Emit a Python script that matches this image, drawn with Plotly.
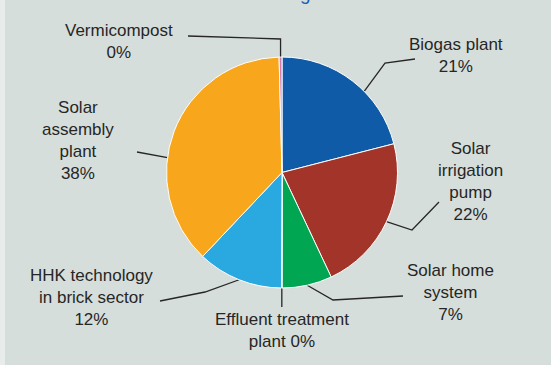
import math
import plotly.graph_objects as go

# Share of each technology (percent), clockwise from 12 o'clock
categories = [
    "Biogas plant",
    "Solar irrigation pump",
    "Solar home system",
    "Effluent treatment plant",
    "HHK technology in brick sector",
    "Solar assembly plant",
    "Vermicompost",
]
shares = [21.0, 22.0, 7.0, 0.05, 12.0, 37.55, 0.4]
slice_colors = ["#0f5ba8", "#a33429", "#00a651", "#8c8c8c", "#29a9e0", "#f8a71d", "#cc7bb8"]

# How each label is broken over lines (percent is appended)
label_lines = [
    ["Biogas plant"],
    ["Solar", "irrigation", "pump"],
    ["Solar home", "system"],
    ["Effluent treatment", "plant {p}"],
    ["HHK technology", "in brick sector"],
    ["Solar", "assembly", "plant"],
    ["Vermicompost"],
]

W, H = 551, 365
CX, CY, R = 282.0, 172.5, 115.5
BG = "#d6dedb"
INK = "#262626"

# Label text centres and leader-line bend points (pixel space, y down)
label_pos = [(456, 55), (470, 181), (450, 292), (282, 330), (91, 297), (78, 140), (119, 41)]
leader_bends = [
    [(385, 63), (415, 59)],
    [(412, 230), (439, 202)],
    [(333, 300), (403, 296)],
    [None],
    [(205, 292), (160, 301)],
    [(137, 152)],
    [None, (188, 36)],
]
# where along its arc each leader touches the slice (0..1)
anchor_frac = [0.6, 0.5, 0.5, 0.5, 0.5, 0.4, 0.5]

total = sum(shares)
fig = go.Figure()

fig.add_trace(go.Pie(
    labels=categories,
    values=shares,
    sort=False,
    direction="clockwise",
    rotation=0,
    marker=dict(colors=slice_colors, line=dict(color="white", width=1)),
    textinfo="none",
    hoverinfo="label+percent",
    showlegend=False,
    domain=dict(x=[(CX - R) / W, (CX + R) / W], y=[1 - (CY + R) / H, 1 - (CY - R) / H]),
))

annotations = []
cum = 0.0
for i, v in enumerate(shares):
    frac = (cum + anchor_frac[i] * v) / total
    cum += v
    ang = 2 * math.pi * frac
    ax_, ay_ = CX + R * math.sin(ang), CY - R * math.cos(ang)
    pts = [(ax_, ay_)]
    for b in leader_bends[i]:
        if b is None:
            # vertical run straight out of the slice
            nxt = leader_bends[i][1] if len(leader_bends[i]) > 1 else None
            if nxt is not None:
                pts.append((ax_, 39))
            else:
                pts.append((ax_, 307))
        else:
            pts.append(b)
    fig.add_trace(go.Scatter(
        x=[p[0] for p in pts], y=[p[1] for p in pts],
        mode="lines", line=dict(color=INK, width=1.3),
        hoverinfo="skip", showlegend=False,
    ))

    pct = f"{round(v / total * 100):d}%"
    lines = [ln.format(p=pct) for ln in label_lines[i]]
    if "{p}" not in "".join(label_lines[i]):
        lines.append(pct)
    annotations.append(dict(
        x=label_pos[i][0], y=label_pos[i][1], xref="x", yref="y",
        text="<br>".join(lines), showarrow=False,
        font=dict(family="Liberation Sans, Arial, sans-serif", size=17, color=INK),
        align="center", xanchor="center", yanchor="middle",
    ))

# heading, mostly above the visible area
annotations.append(dict(
    x=313 / W, y=1, xref="paper", yref="paper", xanchor="right", yanchor="bottom",
    text="Funding", showarrow=False, yshift=-6,
    font=dict(family="Liberation Sans, Arial, sans-serif", size=19, color="#1a5fb4"),
))

fig.update_layout(
    width=W, height=H,
    margin=dict(l=0, r=0, t=0, b=0),
    paper_bgcolor=BG, plot_bgcolor=BG,
    xaxis=dict(range=[0, W], visible=False, fixedrange=True),
    yaxis=dict(range=[H, 0], visible=False, fixedrange=True),
    annotations=annotations,
    shapes=[dict(type="rect", xref="paper", yref="paper", x0=0, x1=5 / W, y0=0, y1=1,
                 fillcolor="#e8ecea", line=dict(width=0), layer="below")],
)

fig.write_html("out.html")
